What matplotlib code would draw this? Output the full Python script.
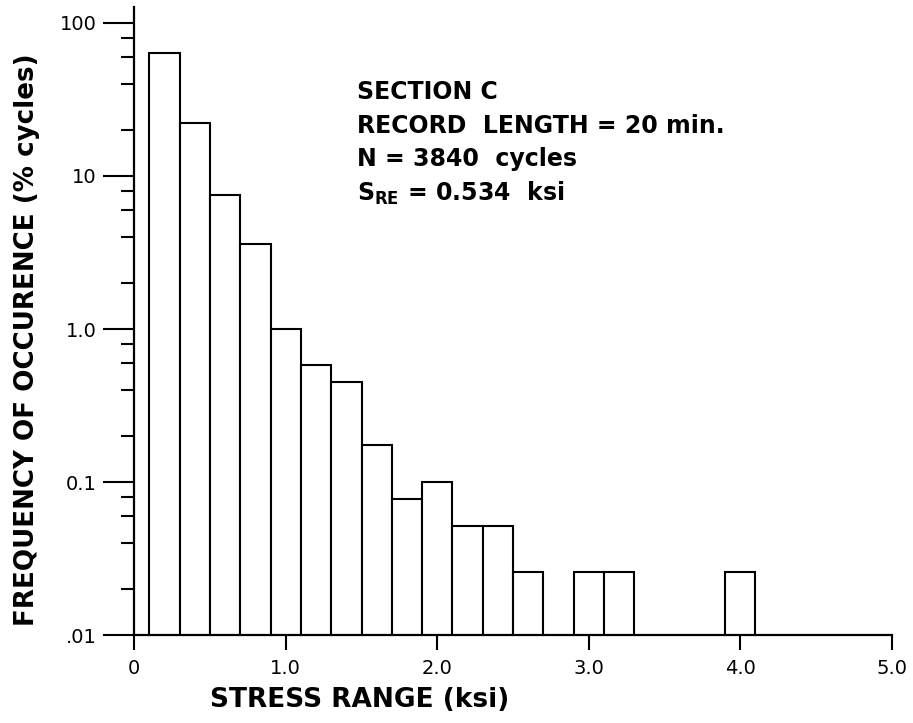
import matplotlib
matplotlib.use("Agg")
import matplotlib.pyplot as plt
from matplotlib.ticker import FixedLocator, NullFormatter

# Stress-range histogram, Section C
bin_centers = [0.2, 0.4, 0.6, 0.8, 1.0, 1.2, 1.4, 1.6, 1.8, 2.0, 2.2, 2.4, 2.6, 3.0, 3.2, 4.0]
frequency_pct = [63.5, 22.0, 7.5, 3.6, 1.0, 0.58, 0.45, 0.175, 0.078, 0.10,
                 0.052, 0.052, 0.026, 0.026, 0.026, 0.026]
bin_width = 0.2

x_ticks = [0, 1, 2, 3, 4, 5]
x_tick_labels = ["0", "1.0", "2.0", "3.0", "4.0", "5.0"]
y_ticks = [0.01, 0.1, 1, 10, 100]
y_tick_labels = [".01", "0.1", "1.0", "10", "100"]
y_minor = [m * 10.0 ** e for e in range(-2, 2) for m in (2, 4, 6, 8)]

info_lines = ["SECTION C", "RECORD  LENGTH = 20 min.", "N = 3840  cycles"]
sre_line = r"$\mathbf{S}_{\mathbf{RE}}$ = 0.534  ksi"

fig = plt.figure(figsize=(9.13, 7.23), dpi=100)
ax = fig.add_axes([0.1471, 0.1213, 0.8296, 0.869])

ax.bar(bin_centers, frequency_pct, width=bin_width, align="center",
       facecolor="white", edgecolor="black", linewidth=1.5, zorder=2)

ax.set_yscale("log")
ax.set_xlim(0, 5)
ax.set_ylim(0.01, 126.7)

ax.spines["top"].set_visible(False)
ax.spines["right"].set_visible(False)
for s in ("left", "bottom"):
    ax.spines[s].set_linewidth(1.6)
    ax.spines[s].set_zorder(3)

ax.xaxis.set_major_locator(FixedLocator(x_ticks))
ax.set_xticklabels(x_tick_labels)
ax.yaxis.set_major_locator(FixedLocator(y_ticks))
ax.set_yticklabels(y_tick_labels)
ax.yaxis.set_minor_locator(FixedLocator(y_minor))
ax.yaxis.set_minor_formatter(NullFormatter())
ax.xaxis.set_minor_locator(FixedLocator([]))

ax.tick_params(axis="x", which="major", direction="out", length=11, width=1.5,
               pad=6, labelsize=14)
ax.tick_params(axis="y", which="major", direction="out", length=22, width=1.5,
               pad=5, labelsize=14)
ax.tick_params(axis="y", which="minor", direction="out", length=9.5, width=1.5)

ax.set_xlabel("STRESS RANGE (ksi)", fontsize=19, fontweight="bold",
              va="center")
ax.xaxis.set_label_coords(0.298, -0.103)
ax.set_ylabel("FREQUENCY OF OCCURENCE (% cycles)", fontsize=18.8,
              fontweight="bold", va="center")
ax.yaxis.set_label_coords(-0.1417, 0.47)

x0 = 357 / 913
ys = [92, 126, 159]
for txt, yp in zip(info_lines, ys):
    fig.text(x0, 1 - yp / 723, txt, fontsize=17, fontweight="bold",
             va="center", ha="left")
fig.text(x0, 1 - 193 / 723, sre_line, fontsize=17, fontweight="bold",
         va="center", ha="left")

fig.savefig("out.png", dpi=100)
